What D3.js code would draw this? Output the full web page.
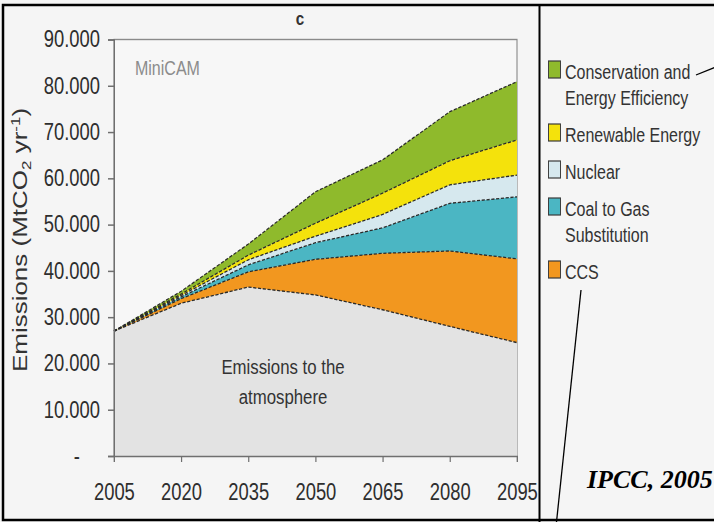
<!DOCTYPE html>
<html>
<head>
<meta charset="utf-8">
<script src="https://cdn.jsdelivr.net/npm/d3@7"></script>
<style>
  html, body { margin: 0; padding: 0; background: #f5f5f5; }
  svg { display: block; font-family: "Liberation Sans", Arial, sans-serif; }
</style>
</head>
<body>
<div id="chart"></div>
<script>
// data (MtCO2 per year), one array per layer, bottom to top
const years = [2005, 2020, 2035, 2050, 2065, 2080, 2095];
const atmosphere   = [27000, 33000, 36500, 34800, 31600, 28000, 24500];
const ccs          = [0, 1000, 3300, 7700, 12200, 16300, 18100];
const coalToGas    = [0, 400, 1500, 3600, 5500, 10300, 13400];
const nuclear      = [0, 300, 1100, 1400, 2900, 4000, 4700];
const renewable    = [0, 300, 1000, 2800, 4600, 5200, 7600];
const conservation = [0, 600, 2400, 6800, 7200, 10600, 12600];

const yTicks = [0, 10000, 20000, 30000, 40000, 50000, 60000, 70000, 80000, 90000];

const keys = ['atmosphere', 'ccs', 'coalToGas', 'nuclear', 'renewable', 'conservation'];
const layerColors = {
    atmosphere: '#e3e3e3',
    ccs: '#f2971f',
    coalToGas: '#4bb6c3',
    nuclear: '#d6e8ee',
    renewable: '#f4e20c',
    conservation: '#8fba2c'
};

// legend entries, top to bottom (a label can span two lines)
const legendItems = [
    { key: 'conservation', lines: ['Conservation and', 'Energy Efficiency'] },
    { key: 'renewable', lines: ['Renewable Energy'] },
    { key: 'nuclear', lines: ['Nuclear'] },
    { key: 'coalToGas', lines: ['Coal to Gas', 'Substitution'] },
    { key: 'ccs', lines: ['CCS'] }
];

const config = {
    WIDTH: 714,
    HEIGHT: 522,
    SQUISH: 0.8, // the chart picture is squeezed sideways, so draw it wide and squeeze
};
const sx = px => px / config.SQUISH; // screen x -> inner (unsqueezed) x

const svg = d3.select('#chart')
    .append('svg')
    .attr('width', config.WIDTH)
    .attr('height', config.HEIGHT)
    .attr('viewBox', `0 0 ${config.WIDTH} ${config.HEIGHT}`);

svg.append('rect')
    .attr('width', config.WIDTH)
    .attr('height', config.HEIGHT)
    .attr('fill', '#f5f5f5');

const chart = svg.append('g')
    .attr('transform', `scale(${config.SQUISH},1)`);

const x = d3.scaleLinear()
    .domain([years[0], years[years.length - 1]])
    .range([sx(114), sx(517)]);

const y = d3.scaleLinear()
    .domain([0, 90000])
    .range([456, 39.5]);

const rows = years.map((yr, i) => ({
    year: yr,
    atmosphere: atmosphere[i],
    ccs: ccs[i],
    coalToGas: coalToGas[i],
    nuclear: nuclear[i],
    renewable: renewable[i],
    conservation: conservation[i]
}));

const stacked = d3.stack().keys(keys)(rows);

// plot frame
chart.append('rect')
    .attr('x', x.range()[0])
    .attr('y', y.range()[1])
    .attr('width', x.range()[1] - x.range()[0])
    .attr('height', y.range()[0] - y.range()[1])
    .attr('fill', '#f7f7f7')
    .attr('stroke', '#8a8a8a')
    .attr('stroke-width', 1.4);

const area = d3.area()
    .x(d => x(d.data.year))
    .y0(d => y(d[0]))
    .y1(d => y(d[1]));

const topLine = d3.line()
    .x(d => x(d.data.year))
    .y(d => y(d[1]));

chart.append('g')
    .selectAll('path')
    .data(stacked)
    .join('path')
    .attr('d', area)
    .attr('fill', d => layerColors[d.key]);

// dashed boundaries on top of every layer
chart.append('g')
    .selectAll('path')
    .data(stacked)
    .join('path')
    .attr('d', topLine)
    .attr('fill', 'none')
    .attr('stroke', '#2a2a2a')
    .attr('stroke-width', 1.3)
    .attr('stroke-dasharray', '4,2');

// axes
const thousands = d3.formatLocale({ decimal: ',', thousands: '.', grouping: [3], currency: ['', ''] }).format(',');

const yAxis = chart.append('g')
    .attr('transform', `translate(${x.range()[0]},0)`)
    .call(d3.axisLeft(y)
        .tickValues(yTicks)
        .tickSize(7.5)
        .tickPadding(10)
        .tickFormat(d => d === 0 ? '-' : thousands(d)));

yAxis.selectAll('text')
    .attr('font-size', 23)
    .attr('font-family', '"Liberation Sans", Arial, sans-serif')
    .attr('fill', '#2e2e2e');
yAxis.selectAll('.tick')
    .filter(d => d === 0)
    .select('text')
    .attr('dx', -25);

const xAxis = chart.append('g')
    .attr('transform', `translate(0,${y(0)})`)
    .call(d3.axisBottom(x)
        .tickValues(years)
        .tickSize(6)
        .tickPadding(22)
        .tickFormat(d3.format('d')));

xAxis.selectAll('text')
    .attr('font-size', 23)
    .attr('font-family', '"Liberation Sans", Arial, sans-serif')
    .attr('fill', '#2e2e2e');

chart.selectAll('.domain, .tick line')
    .attr('stroke', '#6f6f6f')
    .attr('stroke-width', 1.5);

// y axis title
const yTitle = chart.append('text')
    .attr('transform', `translate(${sx(27)},240) rotate(-90)`)
    .attr('text-anchor', 'middle')
    .attr('font-size', 26)
    .attr('fill', '#333');
yTitle.append('tspan').text('Emissions (MtCO');
yTitle.append('tspan').attr('dy', 5).attr('font-size', 17).text('2');
yTitle.append('tspan').attr('dy', -5).text(' yr');
yTitle.append('tspan').attr('dy', -9).attr('font-size', 17).text('-1');
yTitle.append('tspan').attr('dy', 9).text(')');

// panel letter and model name
chart.append('text')
    .attr('x', sx(300))
    .attr('y', 25)
    .attr('text-anchor', 'middle')
    .attr('font-size', 19)
    .attr('font-weight', 'bold')
    .attr('fill', '#333')
    .text('c');

chart.append('text')
    .attr('x', sx(135))
    .attr('y', 75)
    .attr('font-size', 20)
    .attr('fill', '#8c8c8c')
    .text('MiniCAM');

// label inside the bottom layer
chart.append('text')
    .attr('x', sx(283))
    .attr('text-anchor', 'middle')
    .attr('font-size', 21)
    .attr('fill', '#333')
    .selectAll('tspan')
    .data(['Emissions to the', 'atmosphere'])
    .join('tspan')
    .attr('x', sx(283))
    .attr('y', (d, i) => 374 + i * 30)
    .text(d => d);

// legend
const LEGEND_LINE = 26;
const LEGEND_GAP = 37;
let baseline = 79;
const legend = chart.append('g');
legendItems.forEach(item => {
    legend.append('rect')
        .attr('x', sx(548.5))
        .attr('y', baseline - 18)
        .attr('width', sx(12))
        .attr('height', 17)
        .attr('fill', layerColors[item.key])
        .attr('stroke', '#3a3a3a')
        .attr('stroke-width', 1.2);
    item.lines.forEach((line, i) => {
        legend.append('text')
            .attr('x', sx(565))
            .attr('y', baseline + i * LEGEND_LINE)
            .attr('font-size', 20)
            .attr('fill', '#333')
            .text(line);
    });
    baseline += (item.lines.length - 1) * LEGEND_LINE + LEGEND_GAP;
});

// slide overlay: frame, divider, pointer lines and source
svg.append('rect')
    .attr('x', 3)
    .attr('y', 5)
    .attr('width', 760)
    .attr('height', 515)
    .attr('fill', 'none')
    .attr('stroke', '#000')
    .attr('stroke-width', 2.5);

svg.append('line')
    .attr('x1', 539.5).attr('y1', 5)
    .attr('x2', 539.5).attr('y2', 522)
    .attr('stroke', '#000')
    .attr('stroke-width', 2);

svg.append('line')
    .attr('x1', 696).attr('y1', 75)
    .attr('x2', 716).attr('y2', 67)
    .attr('stroke', '#000')
    .attr('stroke-width', 1.3);

svg.append('line')
    .attr('x1', 581).attr('y1', 290)
    .attr('x2', 556.5).attr('y2', 522)
    .attr('stroke', '#000')
    .attr('stroke-width', 1.3);

svg.append('text')
    .attr('x', 587)
    .attr('y', 488)
    .attr('font-family', '"Liberation Serif", "Times New Roman", serif')
    .attr('font-size', 26)
    .attr('font-weight', 'bold')
    .attr('font-style', 'italic')
    .attr('fill', '#000')
    .text('IPCC, 2005');
</script>
</body>
</html>
